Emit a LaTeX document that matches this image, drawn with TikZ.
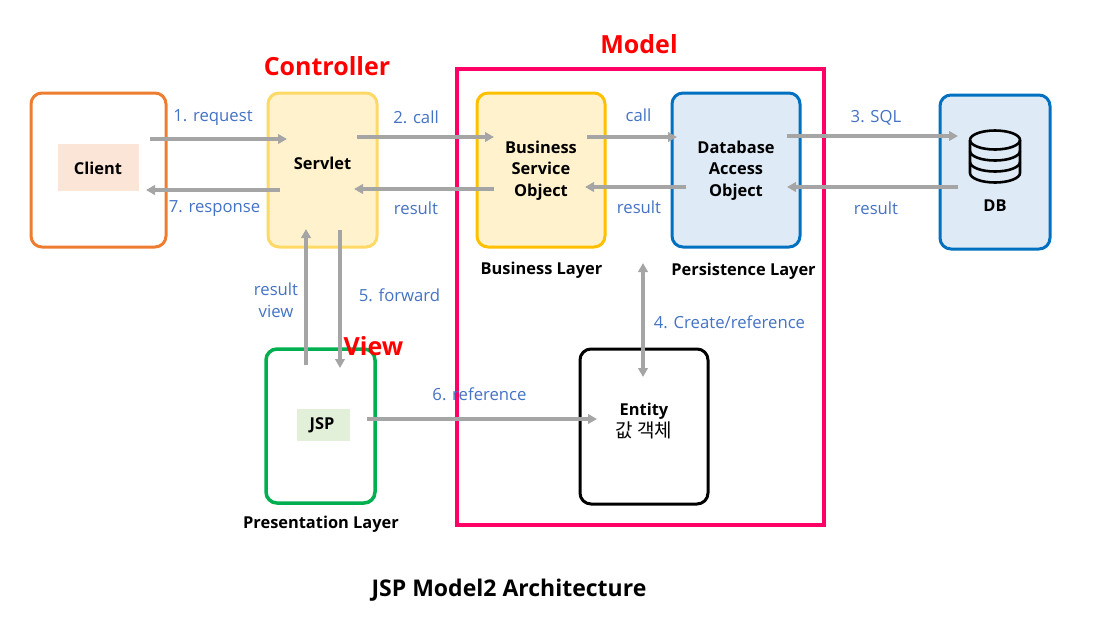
\documentclass[tikz,border=0pt]{standalone}
\usepackage{fontspec}
\setmainfont{Open Sans}
\newfontfamily\krfont{Noto Sans CJK KR}
\usetikzlibrary{arrows.meta}
\definecolor{pinkc}{HTML}{FF0066}
\definecolor{orangec}{HTML}{ED7D31}
\definecolor{yellowl}{HTML}{FFD966}
\definecolor{yellowf}{HTML}{FFF2CC}
\definecolor{gold}{HTML}{FFC000}
\definecolor{bluec}{HTML}{0070C0}
\definecolor{bluef}{HTML}{DEEBF7}
\definecolor{greenc}{HTML}{00B050}
\definecolor{lab}{HTML}{4472C4}
\definecolor{arr}{HTML}{A5A5A5}
\definecolor{clientf}{HTML}{FBE5D6}
\definecolor{jspf}{HTML}{E2F0D9}
\tikzset{
  box/.style={draw,line width=3pt,rounded corners=11pt,anchor=north west,inner sep=0pt,outer sep=0pt},
  flow/.style={draw=arr,line width=3.05pt,-{Triangle[length=9pt,width=9.5pt]}},
  flowboth/.style={draw=arr,line width=3.05pt,{Triangle[length=9pt,width=9.5pt]}-{Triangle[length=9pt,width=9.5pt]}},
  lbl/.style={text=lab,font=\fontsize{16.7}{20}\selectfont,inner sep=0pt},
  bold/.style={font=\fontsize{16.4}{21.5}\selectfont\bfseries,inner sep=0pt,align=center,text=black},
  head/.style={text=red,font=\fontsize{25}{28}\selectfont\bfseries,inner sep=0pt},
}
\begin{document}
\begin{tikzpicture}[x=1pt,y=-1pt]
\useasboundingbox (0,0) rectangle (1093,641);
% boxes
\node[box,draw=pinkc,line width=4pt,rounded corners=0pt,minimum width=367pt,minimum height=456pt] (model) at (457,69) {};
\node[box,draw=orangec,fill=white,minimum width=135pt,minimum height=154pt] (clientbox) at (31,93) {};
\node[box,draw=yellowl,fill=yellowf,minimum width=109pt,minimum height=154pt] (servlet) at (268,93) {};
\node[box,draw=gold,fill=yellowf,minimum width=128pt,minimum height=154pt] (bso) at (477,93) {};
\node[box,draw=bluec,fill=bluef,minimum width=128pt,minimum height=154pt] (dao) at (672,93) {};
\node[box,draw=bluec,fill=bluef,minimum width=110pt,minimum height=154pt] (dbbox) at (940,95) {};
\node[box,draw=greenc,fill=white,line width=3.5pt,minimum width=109pt,minimum height=154pt] (jspbox) at (266,349) {};
\node[box,draw=black,fill=white,minimum width=128pt,minimum height=155pt] (entity) at (580,349) {};
% inner
\node[fill=clientf,minimum width=81pt,minimum height=47pt,inner sep=0pt] (client) at (98,167.5) {};
\node[bold] (clientt) at (98,168) {Client};
\node[fill=jspf,minimum width=53pt,minimum height=32pt,inner sep=0pt] (jsp) at (323,425) {};
\node[bold] (jspt) at (322,425.5) {JSP};
\node[bold] (servt) at (322.5,163) {Servlet};
\node[bold] (bsot) at (541,170.5) {Business\\Service\\Object};
\node[bold] (daot) at (736,170.5) {Database\\Access\\Object};
\node[bold] (dbt) at (995,205.5) {DB};
\node[bold] (entt) at (644,421) {Entity\\{\krfont\mdseries\fontsize{19}{21.5}\selectfont 값 객체}};
% layer names
\node[bold] (bl) at (541.5,270.5) {Business Layer};
\node[bold] (pl) at (743.5,271.5) {Persistence Layer};
\node[bold] (prl) at (321,524.5) {Presentation Layer};
\node[bold,font=\fontsize{23}{26}\selectfont\bfseries] (title) at (509,590) {JSP Model2 Architecture};
% DB icon
\draw[line width=2.6pt,fill=none] (970,140) arc[start angle=180,end angle=-180,x radius=25pt,y radius=9.5pt];
\draw[line width=2.6pt] (970,140) -- (970,173) arc[start angle=180,end angle=360,x radius=25pt,y radius=9.5pt] -- (1020,140);
\draw[line width=2.6pt] (970,151) arc[start angle=180,end angle=360,x radius=25pt,y radius=9.5pt];
\draw[line width=2.6pt] (970,162) arc[start angle=180,end angle=360,x radius=25pt,y radius=9.5pt];
% connector ends
\coordinate (a1) at (150,139); \coordinate (b1) at (287,139);
\coordinate (a7) at (280,190); \coordinate (b7) at (146,190);
\coordinate (a2) at (357,137); \coordinate (b2) at (494,137);
\coordinate (ar1) at (494,189); \coordinate (br1) at (354,189);
\coordinate (ac) at (587,137); \coordinate (bc) at (677,137);
\coordinate (ar2) at (686,187); \coordinate (br2) at (585,187);
\coordinate (a3) at (787,136); \coordinate (b3) at (958,136);
\coordinate (ar3) at (958,187); \coordinate (br3) at (787,187);
\coordinate (a5) at (340,230); \coordinate (b5) at (340,368);
\coordinate (av) at (306,365); \coordinate (bv) at (306,229);
\coordinate (a6) at (367,419); \coordinate (b6) at (597,419);
\coordinate (a4) at (643,263); \coordinate (b4) at (643,377);
\draw[flow] (a1) -- (b1);
\draw[flow] (a7) -- (b7);
\draw[flow] (a2) -- (b2);
\draw[flow] (ar1) -- (br1);
\draw[flow] (ac) -- (bc);
\draw[flow] (ar2) -- (br2);
\draw[flow] (a3) -- (b3);
\draw[flow] (ar3) -- (br3);
\draw[flow] (a5) -- (b5);
\draw[flow] (av) -- (bv);
\draw[flow] (a6) -- (b6);
\draw[flowboth] (a4) -- (b4);
% labels
\node[lbl] (l1) at (213,118) {1. request};
\node[lbl] (l7) at (214.5,209) {7. response};
\node[lbl] (l2) at (416,117) {2. call};
\node[lbl] (lr1) at (416,208) {result};
\node[lbl] (lc) at (638.5,115) {call};
\node[lbl] (lr2) at (639,207) {result};
\node[lbl] (l3) at (876,118) {3. SQL};
\node[lbl] (lr3) at (876,208) {result};
\node[lbl,align=center,font=\fontsize{16.7}{22}\selectfont] (lv) at (276,300) {result\\view};
\node[lbl] (l5) at (399.5,295) {5. forward};
\node[lbl] (l4) at (729.5,322) {4. Create/reference};
\node[lbl] (l6) at (479.5,394) {6. reference};
% heads
\node[head] (hm) at (639,44) {Model};
\node[head] (hc) at (327,66) {Controller};
\node[head] (hv) at (373.5,346) {View};
\end{tikzpicture}
\end{document}
